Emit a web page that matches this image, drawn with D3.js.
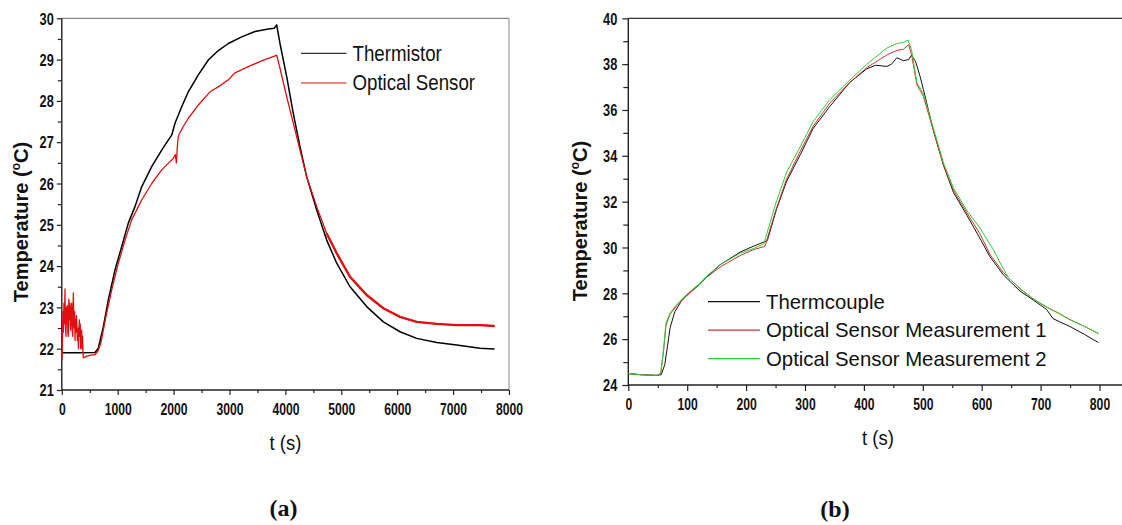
<!DOCTYPE html>
<html>
<head>
<meta charset="utf-8">
<script src="https://cdnjs.cloudflare.com/ajax/libs/d3/7.8.5/d3.min.js"></script>
<style>
    body { margin: 0; background: #fff; }
    svg { display: block; }
    text { font-family: 'Liberation Sans', Arial, sans-serif; fill: #111; }
</style>
</head>
<body>
<div id="chart"></div>
<script>
// ---- panel (a) : thermistor vs optical sensor ----
var thermistorT = [0, 300, 594, 653, 743, 832, 952, 1071, 1190, 1309, 1429, 1608, 1787, 1905, 1966, 2025,
    2145, 2263, 2442, 2621, 2800, 2979, 3218, 3456, 3694, 3800, 3844, 3903, 4023, 4141, 4261, 4381, 4560,
    4739, 4918, 5156, 5454, 5752, 6050, 6349, 6707, 7064, 7481, 7742];
var thermistorV = [21.9, 21.9, 21.91, 22.01, 22.53, 23.18, 23.91, 24.47, 25.04, 25.44, 25.92, 26.41, 26.81,
    27.05, 27.17, 27.46, 27.86, 28.22, 28.63, 28.99, 29.22, 29.39, 29.55, 29.68, 29.74, 29.76, 29.84, 29.39,
    28.59, 27.70, 26.89, 26.16, 25.36, 24.63, 24.07, 23.50, 23.02, 22.65, 22.41, 22.25, 22.15, 22.09, 22.01, 21.99];

var opticalT = [0, 5, 12, 20, 28, 38, 48, 57, 66, 75, 84, 92, 99, 108, 117, 126, 135, 144, 152, 159, 168,
    177, 186, 195, 201, 207, 214, 222, 230, 237, 246, 255, 262, 270, 280, 290, 297, 305, 314, 322, 330, 338,
    346, 356, 364, 372, 380, 386, 450, 500, 550, 600, 650, 700, 743, 800, 892, 1011, 1131, 1250, 1429, 1608,
    1787, 1936, 1990, 2030, 2050, 2065, 2080, 2100, 2160, 2263, 2442, 2651, 2800, 2979, 3098, 3337, 3576,
    3814, 3844, 3903, 4023, 4141, 4261, 4381, 4560, 4739, 4918, 5156, 5454, 5752, 6050, 6349, 6707, 7064,
    7481, 7742];
var opticalV = [21.95, 21.75, 22.3, 22.9, 22.4, 23.1, 22.6, 23.45, 22.5, 22.3, 23.0, 22.6, 23.05, 22.4, 22.3,
    23.2, 22.7, 23.1, 22.6, 22.45, 23.0, 23.1, 22.5, 22.3, 22.9, 23.35, 22.8, 22.5, 22.9, 22.2, 22.7, 22.4,
    22.8, 22.6, 22.2, 22.5, 22.0, 22.4, 22.7, 22.3, 22.6, 22.0, 22.3, 22.45, 22.0, 22.3, 21.85, 21.78, 21.82,
    21.84, 21.85, 21.86, 21.95, 22.15, 22.45, 22.85, 23.42, 24.07, 24.63, 25.12, 25.60, 26.0, 26.33, 26.53,
    26.6, 26.7, 26.5, 26.85, 27.1, 27.2, 27.35, 27.58, 27.90, 28.22, 28.34, 28.51, 28.68, 28.83, 28.97, 29.09,
    29.11, 28.79, 28.10, 27.46, 26.81, 26.16, 25.44, 24.79, 24.31, 23.74, 23.30, 22.98, 22.77, 22.65, 22.60,
    22.57, 22.57, 22.55];

var ticksAx = [0, 1000, 2000, 3000, 4000, 5000, 6000, 7000, 8000];
var ticksAy = [21, 22, 23, 24, 25, 26, 27, 28, 29, 30];

// ---- panel (b) : thermocouple vs two optical measurements ----
var thermocoupleT = [0, 20, 48, 56, 62, 66, 71, 79, 91, 105, 120, 133, 156, 190, 212, 236, 252, 269, 292,
    314, 342, 376, 405, 420, 439, 447, 456, 467, 476, 481, 488, 495, 501, 518, 535, 552, 575, 597, 614, 637,
    665, 688, 710, 721, 733, 750, 775, 798];
var thermocoupleV = [24.5, 24.45, 24.42, 24.45, 24.9, 25.6, 26.5, 27.2, 27.7, 28.05, 28.4, 28.7, 29.25, 29.8,
    30.05, 30.3, 31.7, 32.9, 34.05, 35.2, 36.15, 37.2, 37.8, 37.95, 37.9, 38.0, 38.28, 38.15, 38.2, 38.4, 38.1,
    37.5, 36.9, 35.1, 33.6, 32.4, 31.4, 30.4, 29.6, 28.8, 28.1, 27.7, 27.3, 26.9, 26.75, 26.55, 26.2, 25.85];

var measure1T = [0, 20, 48, 55, 60, 64, 71, 82, 99, 120, 133, 156, 190, 212, 232, 250, 269, 292, 314, 342,
    376, 405, 439, 456, 467, 476, 481, 490, 501, 518, 535, 552, 575, 597, 614, 637, 665, 688, 710, 733, 750,
    775, 798];
var measure1V = [24.5, 24.45, 24.42, 24.5, 25.5, 26.6, 27.1, 27.45, 27.9, 28.35, 28.7, 29.15, 29.65, 29.9,
    30.05, 31.6, 33.0, 34.2, 35.3, 36.3, 37.2, 37.85, 38.4, 38.6, 38.65, 38.85, 38.4, 37.1, 36.6, 35.1, 33.6,
    32.5, 31.5, 30.6, 29.7, 28.9, 28.2, 27.75, 27.4, 27.1, 26.85, 26.55, 26.25];

var measure2T = [0, 20, 48, 55, 60, 64, 71, 82, 99, 120, 133, 156, 190, 212, 230, 250, 269, 292, 314, 342,
    376, 405, 439, 456, 467, 475, 481, 490, 501, 518, 535, 552, 575, 597, 620, 634, 645, 665, 688, 710, 733,
    750, 775, 798];
var measure2V = [24.5, 24.45, 24.42, 24.5, 25.6, 26.7, 27.15, 27.5, 27.95, 28.4, 28.75, 29.25, 29.75, 29.95,
    30.15, 31.9, 33.3, 34.4, 35.5, 36.45, 37.3, 38.0, 38.7, 38.9, 38.95, 39.05, 38.6, 37.2, 36.7, 35.2, 33.7,
    32.6, 31.6, 30.85, 29.9, 29.2, 28.7, 28.2, 27.75, 27.4, 27.1, 26.85, 26.55, 26.25];

var ticksBx = [0, 100, 200, 300, 400, 500, 600, 700, 800];
var ticksBy = [24, 26, 28, 30, 32, 34, 36, 38, 40];

var svg = d3.select('#chart')
    .append('svg')
    .attr('width', 1122)
    .attr('height', 525);

// condensed look: squeeze text horizontally around its anchor
function squeeze(sel, sx) {
    sel.attr('transform', function() {
        var x = +d3.select(this).attr('x') || 0;
        return `translate(${x},0) scale(${sx},1) translate(${-x},0)`;
    });
}

function drawPanel(p) {
    var x = d3.scaleLinear().domain(p.xDomain).range(p.xRange);
    var y = d3.scaleLinear().domain(p.yDomain).range(p.yRange);
    var g = svg.append('g');
    var y0 = p.yRange[0], y1 = p.yRange[1], x0 = p.xRange[0];

    // frame
    g.append('line').attr('x1', x0).attr('x2', p.frameRight).attr('y1', y1).attr('y2', y1)
        .attr('stroke', p.frameColor).attr('stroke-width', 1.2);
    if (p.rightBorder) {
        g.append('line').attr('x1', p.frameRight).attr('x2', p.frameRight).attr('y1', y1).attr('y2', y0)
            .attr('stroke', '#999').attr('stroke-width', 1.2);
    }

    // minor ticks
    g.append('g').attr('transform', `translate(0,${y0})`)
        .call(d3.axisBottom(x).tickValues(p.minorX).tickSize(3).tickFormat(''))
        .call(a => a.select('.domain').remove())
        .selectAll('line').attr('stroke', '#222').attr('stroke-width', 1.2);
    g.append('g').attr('transform', `translate(${x0},0)`)
        .call(d3.axisLeft(y).tickValues(p.minorY).tickSize(p.tickLen - 1).tickFormat(''))
        .call(a => a.select('.domain').remove())
        .selectAll('line').attr('stroke', '#222').attr('stroke-width', 1.2);

    // major ticks + labels
    var xa = g.append('g').attr('transform', `translate(0,${y0})`)
        .call(d3.axisBottom(x).tickValues(p.ticksX).tickSize(p.tickLen).tickFormat(d3.format('d')));
    xa.select('.domain').remove();
    xa.selectAll('line').attr('stroke', '#222').attr('stroke-width', 1.2);
    xa.selectAll('text').attr('y', p.xLabelBase).attr('dy', 0)
        .attr('font-size', 16).attr('font-weight', 'bold').attr('fill', '#111')
        .style('font-family', "'Liberation Sans', Arial, sans-serif");
    squeeze(xa.selectAll('text'), 0.76);

    var ya = g.append('g').attr('transform', `translate(${x0},0)`)
        .call(d3.axisLeft(y).tickValues(p.ticksY).tickSize(p.tickLen).tickFormat(d3.format('d')));
    ya.select('.domain').remove();
    ya.selectAll('line').attr('stroke', '#222').attr('stroke-width', 1.2);
    ya.selectAll('text').attr('x', -p.yLabelGap).attr('dy', '0.36em')
        .attr('font-size', 16).attr('font-weight', 'bold').attr('fill', '#111')
        .style('font-family', "'Liberation Sans', Arial, sans-serif");
    squeeze(ya.selectAll('text'), 0.8);

    // axis lines
    g.append('line').attr('x1', x0).attr('x2', p.frameRight).attr('y1', y0).attr('y2', y0)
        .attr('stroke', '#222').attr('stroke-width', 1.4);
    g.append('line').attr('x1', x0).attr('x2', x0).attr('y1', y1).attr('y2', y0)
        .attr('stroke', '#222').attr('stroke-width', 1.4);

    // series
    var line = d3.line().x(d => x(d[0])).y(d => y(d[1]));
    p.series.forEach(s => {
        var pts = d3.zip(s.t, s.v);
        g.append('path').datum(pts)
            .attr('fill', 'none').attr('stroke', s.color).attr('stroke-width', s.width)
            .attr('stroke-linejoin', 'round').attr('d', line);
        if (s.thickFrom != null) {
            g.append('path').datum(pts.filter(d => d[0] >= s.thickFrom))
                .attr('fill', 'none').attr('stroke', s.color).attr('stroke-width', 2.4)
                .attr('d', line);
        }
    });

    // legend
    p.series.forEach((s, i) => {
        var ly = p.legend.y + i * p.legend.step;
        g.append('line').attr('x1', p.legend.x).attr('x2', p.legend.x + p.legend.len)
            .attr('y1', ly).attr('y2', ly).attr('stroke', s.legendColor || s.color).attr('stroke-width', 1.2);
        var t = g.append('text').attr('x', p.legend.x + p.legend.len + 6).attr('y', ly + p.legend.size * 0.34)
            .attr('font-size', p.legend.size).text(s.name);
        squeeze(t, p.legend.sx);
    });

    // axis titles
    var xt = g.append('text').attr('x', p.xTitle[0]).attr('y', p.xTitle[1])
        .attr('text-anchor', 'middle').attr('font-size', 21).text('t (s)');
    squeeze(xt, 0.88);

    var yt = g.append('text')
        .attr('transform', `translate(${p.yTitle[0]},${p.yTitle[1]}) rotate(-90)`)
        .attr('text-anchor', 'middle').attr('font-size', 20).attr('font-weight', 'bold');
    yt.append('tspan').text('Temperature (');
    yt.append('tspan').attr('font-size', 12).attr('dy', -8).text('o');
    yt.append('tspan').attr('dy', 8).text('C)');

    g.append('text').attr('x', p.caption[0]).attr('y', p.caption[1])
        .attr('text-anchor', 'middle').attr('font-size', 24).attr('font-weight', 'bold')
        .style('font-family', "'Liberation Serif', 'Times New Roman', serif")
        .text(p.caption[2]);
}

drawPanel({
    xDomain: [0, 8000], xRange: [61.8, 509],
    yDomain: [21, 30], yRange: [390, 18.3],
    frameRight: 509, rightBorder: true, frameColor: '#888',
    ticksX: ticksAx, ticksY: ticksAy,
    minorX: d3.range(500, 8000, 1000), minorY: d3.range(21.5, 30, 1),
    tickLen: 5, xLabelBase: 25.5, yLabelGap: 8,
    series: [
        { name: 'Thermistor', t: thermistorT, v: thermistorV, color: '#000', width: 1.5, legendColor: '#333' },
        { name: 'Optical Sensor', t: opticalT, v: opticalV, color: '#e01010', width: 1.3, thickFrom: 4700 }
    ],
    legend: { x: 301, y: 53.3, step: 29.7, len: 45.5, size: 22, sx: 0.85 },
    xTitle: [285.5, 450], yTitle: [28, 222], caption: [283.5, 516, '(a)']
});

drawPanel({
    xDomain: [0, 800], xRange: [628.3, 1099.5],
    yDomain: [24, 40], yRange: [385, 18.3],
    frameRight: 1122, rightBorder: false, frameColor: '#333',
    ticksX: ticksBx, ticksY: ticksBy,
    minorX: d3.range(50, 800, 100), minorY: d3.range(25, 40, 2),
    tickLen: 6, xLabelBase: 25, yLabelGap: 11,
    series: [
        { name: 'Thermcouple', t: thermocoupleT, v: thermocoupleV, color: '#111', width: 1 },
        { name: 'Optical Sensor Measurement 1', t: measure1T, v: measure1V, color: '#cc3333', width: 1 },
        { name: 'Optical Sensor Measurement 2', t: measure2T, v: measure2V, color: '#33cc33', width: 1 }
    ],
    legend: { x: 708, y: 301.7, step: 28.5, len: 52, size: 21, sx: 0.97 },
    xTitle: [878, 445], yTitle: [587, 221], caption: [835, 517, '(b)']
});
</script>
</body>
</html>
